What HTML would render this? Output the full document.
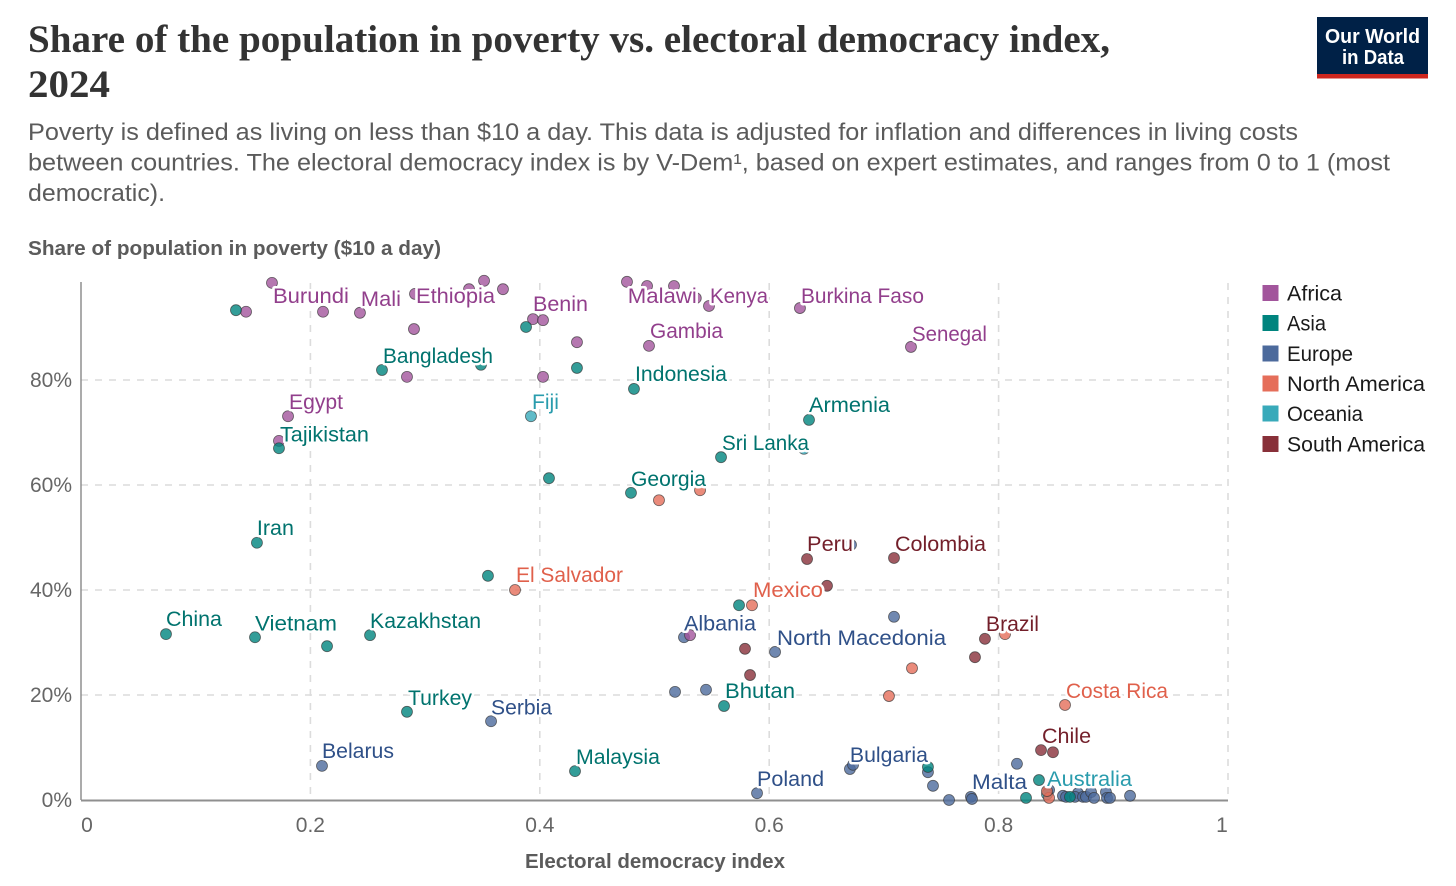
<!DOCTYPE html>
<html lang="en">
<head>
<meta charset="utf-8">
<title>Share of the population in poverty vs. electoral democracy index, 2024</title>
<style>
html,body{margin:0;padding:0;background:#fff;width:1456px;height:886px;overflow:hidden}
svg{display:block}
text{font-family:"Liberation Sans",sans-serif}
.title{font-family:"Liberation Serif",serif;font-weight:700;font-size:39px;fill:#333}
.sub{font-size:24px;fill:#5b5b5b}
.axt{font-size:20px;font-weight:700;fill:#5b5b5b}
.tick{font-size:21px;fill:#666}
.leg{font-size:21px;fill:#1a1a1a}
.logo{font-weight:700;fill:#fff;font-size:20px}
</style>
</head>
<body>
<svg id="chart" width="1456" height="886" viewBox="0 0 1456 886" xmlns="http://www.w3.org/2000/svg">
  <rect width="1456" height="886" fill="#fff"/>
  <text class="title" x="28" y="52" textLength="1082" lengthAdjust="spacingAndGlyphs">Share of the population in poverty vs. electoral democracy index,</text>
  <text class="title" x="28" y="97" textLength="82" lengthAdjust="spacingAndGlyphs">2024</text>
  <text class="sub" x="28" y="140" textLength="1270" lengthAdjust="spacingAndGlyphs">Poverty is defined as living on less than $10 a day. This data is adjusted for inflation and differences in living costs</text>
  <text class="sub" x="28" y="170.500" textLength="1362" lengthAdjust="spacingAndGlyphs">between countries. The electoral democracy index is by V-Dem¹, based on expert estimates, and ranges from 0 to 1 (most</text>
  <text class="sub" x="28" y="201" textLength="137" lengthAdjust="spacingAndGlyphs">democratic).</text>
  <text class="axt" x="28" y="255" textLength="413" lengthAdjust="spacingAndGlyphs">Share of population in poverty ($10 a day)</text>
  <text class="axt" x="525" y="868" textLength="260" lengthAdjust="spacingAndGlyphs">Electoral democracy index</text>

  <g id="grid"></g>
  <line x1="81" y1="282" x2="81" y2="800" stroke="#8f8f8f" stroke-width="1.5"/>
  <line x1="81" y1="800.5" x2="1228" y2="800.5" stroke="#8f8f8f" stroke-width="2"/>
  <g id="ticks"></g>
  <g id="points"></g>
  <g id="labels"></g>
  <g id="legend"></g>

  <g>
    <rect x="1317" y="17" width="111" height="58" fill="#002147"/>
    <rect x="1317" y="74" width="111" height="4.5" fill="#ce261e"/>
    <text class="logo" x="1325" y="43" textLength="95" lengthAdjust="spacingAndGlyphs">Our World</text>
    <text class="logo" x="1342" y="64" textLength="62" lengthAdjust="spacingAndGlyphs">in Data</text>
  </g>
</svg>
<script>
// ---- chart data ----
const xTickValues = [0, 0.2, 0.4, 0.6, 0.8, 1];
const xTickLabels = ['0', '0.2', '0.4', '0.6', '0.8', '1'];
const yTickValues = [0, 20, 40, 60, 80];
const yTickLabels = ['0%', '20%', '40%', '60%', '80%'];
const continentNames = ['Africa', 'Asia', 'Europe', 'North America', 'Oceania', 'South America'];

const africaNames = ['Burundi','','','Mali','Ethiopia','','','','','Benin','','','','','','','','Malawi','Kenya','Burkina Faso','Gambia','Senegal','Egypt','',''];
const africaX = [.1665,.1439,.211,.2432,.2912,.3383,.3514,.3679,.3941,.4028,.2903,.2842,.4028,.4324,.476,.4935,.517,.536,.5475,.6268,.4952,.7236,.1805,.1726,.531];
const africaY = [98.5,93,93,92.8,96.4,97.3,98.9,97.3,91.6,91.4,89.7,80.6,80.6,87.2,98.7,97.9,97.9,95.6,94.1,93.7,86.5,86.3,73.1,68.4,31.4];

const asiaNames = ['','Bangladesh','','','','Indonesia','Armenia','Sri Lanka','','Tajikistan','Georgia','Iran','','China','Vietnam','','Kazakhstan','','Turkey','Bhutan','Malaysia','','','',''];
const asiaX = [.1351,.2624,.3487,.388,.4324,.4821,.6347,.558,.408,.1726,.4795,.1534,.3548,.0741,.1517,.2145,.252,.5737,.2842,.5606,.4307,.7384,.8352,.8239,.8622];
const asiaY = [93.3,81.9,82.9,90.1,82.3,78.3,72.4,65.3,61.3,67,58.5,49,42.7,31.6,31,29.3,31.4,37.1,16.8,17.9,5.5,6.3,3.8,.4,.6];

const europeNames = ['Belarus','Serbia','Albania','North Macedonia','','','','','Poland','Bulgaria','','','','','','Malta','','','','','','','','','','','','','',''];
const europeX = [.2101,.3575,.5257,.6051,.5179,.5449,.7088,.6713,.5894,.6704,.6731,.7384,.7428,.7568,.7759,.7768,.816,.844,.8561,.8588,.8692,.8666,.8736,.8762,.8806,.8832,.8936,.8945,.8971,.9146];
const europeY = [6.5,15,31,28.2,20.6,21,34.9,48.6,1.3,5.9,6.7,5.3,2.7,0,.6,.2,6.9,1.9,.8,.6,1.3,.6,.6,.6,1.5,.4,1.5,.4,.4,.8];

const northAmericaNames = ['El Salvador','','','Mexico','','','','Costa Rica','',''];
const northAmericaX = [.3784,.5039,.5397,.585,.8056,.7245,.7044,.8579,.844,.8422];
const northAmericaY = [40,57.1,59,37.1,31.6,25.1,19.8,18.1,.4,1.7];

const oceaniaNames = ['Fiji','','Australia'];
const oceaniaX = [.3923,.6303,.8422];
const oceaniaY = [73.1,66.9,1.1];

const southAmericaNames = ['Peru','','Colombia','Brazil','','','','Chile',''];
const southAmericaX = [.633,.6504,.7088,.7881,.7794,.5789,.5833,.837,.8474];
const southAmericaY = [45.9,40.8,46.1,30.7,27.2,28.8,23.8,9.5,9.1];

// ---- layout & style ----
const SVGNS = 'http://www.w3.org/2000/svg';
const xScale = v => 81 + v * 1147;
const yScale = v => 800 - v * 5.25;
const continentStyles = [
  {fill:'#A2559C', text:'#923F8C', legendFill:'#A2559C'},
  {fill:'#00847E', text:'#00736E', legendFill:'#00847E'},
  {fill:'#4C6A9C', text:'#2F5088', legendFill:'#4C6A9C'},
  {fill:'#E56E5A', text:'#E0604B', legendFill:'#E56E5A'},
  {fill:'#38AABA', text:'#2A9CAD', legendFill:'#38AABA'},
  {fill:'#883039', text:'#731F2A', legendFill:'#883039'}
];
// label placement relative to the country's point: dx, dy, text width
const labelOffsets = {
  'Burundi':[1,20,76],'Mali':[1,-7,40],'Ethiopia':[1,9,79],'Benin':[-10,-9,55],'Malawi':[-68,5,69],
  'Kenya':[1,-3,58],'Burkina Faso':[1,-5,123],'Gambia':[1,-8,73],'Senegal':[1,-6,75],
  'Egypt':[1,-7,54],'Bangladesh':[1,-7,110],'Indonesia':[1,-8,92],'Armenia':[0,-8,81],'Sri Lanka':[1,-7,87],
  'Tajikistan':[1,-7,89],'Georgia':[0,-7,75],'Iran':[0,-8,37],'China':[0,-8,56],'Vietnam':[0,-7,82],
  'Kazakhstan':[0,-7,111],'Turkey':[1,-7,64],'Bhutan':[1,-8,70],'Malaysia':[1,-7,84],
  'Belarus':[0,-8,72],'Serbia':[0,-7,61],'Albania':[0,-7,72],'North Macedonia':[2,-7,169],
  'Poland':[0,-7,67],'Bulgaria':[0,-7,78],'Malta':[0,-10,55],
  'El Salvador':[1,-8,107],'Mexico':[1,-8,70],'Costa Rica':[1,-7,102],
  'Fiji':[1,-7,27],'Australia':[0,-8,85],
  'Peru':[0,-8,46],'Colombia':[1,-7,91],'Brazil':[1,-8,53],'Chile':[1,-7,49]
};
const legendWidths = [55,39,66,138,76,138];
const legendSquareTops = [285,315,345.5,375.5,405.5,436];
const drawOrder = [2,0,1,4,3,5];

function svgEl(tag, parent, attrs){
  const el = document.createElementNS(SVGNS, tag);
  for (const k in attrs) el.setAttribute(k, attrs[k]);
  parent.appendChild(el);
  return el;
}

// gridlines
const gridG = document.getElementById('grid');
xTickValues.slice(1).forEach(function(v){
  const line = svgEl('line', gridG, {x1:xScale(v), x2:xScale(v), y1:283, y2:800, stroke:'#dcdcdc', 'stroke-width':1.6, 'stroke-dasharray':'7,7'});
  
  
});
yTickValues.slice(1).forEach(function(v){
  const line = svgEl('line', gridG, {x1:81, x2:1228, y1:yScale(v), y2:yScale(v), stroke:'#dcdcdc', 'stroke-width':1.6, 'stroke-dasharray':'7,7'});
  
  
});

// ticks
const ticksG = document.getElementById('ticks');
xTickValues.forEach(function(v, i){
  let x = xScale(v);
  if (i === 0) x += 6;
  if (i === xTickValues.length - 1) x -= 6;
  const t = svgEl('text', ticksG, {x:x, y:832, 'text-anchor':'middle', class:'tick'});
  
  
  t.textContent = xTickLabels[i];
});
yTickValues.forEach(function(v, i){
  const t = svgEl('text', ticksG, {x:72, y:yScale(v) + 7, 'text-anchor':'end', class:'tick'});
  
  
  t.textContent = yTickLabels[i];
});

// series
const seriesNames = [africaNames, asiaNames, europeNames, northAmericaNames, oceaniaNames, southAmericaNames];
const seriesX = [africaX, asiaX, europeX, northAmericaX, oceaniaX, southAmericaX];
const seriesY = [africaY, asiaY, europeY, northAmericaY, oceaniaY, southAmericaY];
const pointsG = document.getElementById('points');
const labelsG = document.getElementById('labels');

drawOrder.forEach(function(s){
  const style = continentStyles[s];
  seriesX[s].forEach(function(xv, i){
    const c = svgEl('circle', pointsG, {cx:xScale(xv), cy:yScale(seriesY[s][i]), r:5.5, fill:style.fill, 'fill-opacity':.8, stroke:'#333', 'stroke-opacity':.7, 'stroke-width':.8});
    
    
  });
});
seriesX.forEach(function(xs, s){
  const style = continentStyles[s];
  xs.forEach(function(xv, i){
    const name = seriesNames[s][i];
    if (!name) return;
    const off = labelOffsets[name];
    const t = svgEl('text', labelsG, {
      x:xScale(xv) + off[0], y:yScale(seriesY[s][i]) + off[1],
      fill:style.text, stroke:'#fff', 'stroke-width':5, 'stroke-linejoin':'round',
      'paint-order':'stroke', 'font-size':21, textLength:off[2], lengthAdjust:'spacingAndGlyphs'
    });
    
    
    t.textContent = name;
  });
});

// legend
const legendG = document.getElementById('legend');
continentNames.forEach(function(name, i){
  const sw = svgEl('rect', legendG, {x:1262.5, y:legendSquareTops[i], width:16, height:16, fill:continentStyles[i].legendFill});
  
  
  const t = svgEl('text', legendG, {x:1287, y:legendSquareTops[i] + 15.5, class:'leg', textLength:legendWidths[i], lengthAdjust:'spacingAndGlyphs'});
  
  
  t.textContent = name;
});
</script>
</body>
</html>
